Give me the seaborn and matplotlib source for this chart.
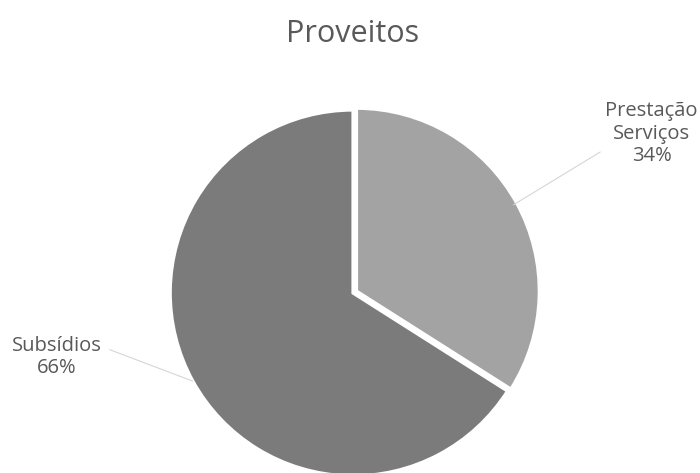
import numpy as np
import matplotlib
matplotlib.use("Agg")
from matplotlib import pyplot as plt
import seaborn as sns

categories = ["Prestação\nServiços", "Subsídios"]
shares = [34, 66]
slice_colors = ["#a3a3a3", "#7b7b7b"]

sns.set_theme(style="white")
plt.rcParams['font.family'] = ['Open Sans', 'DejaVu Sans']

fig = plt.figure(figsize=(7, 4.73), dpi=100)
fig.patch.set_facecolor("white")
fig.text(0.503, 0.928, "Proveitos", ha="center", va="center", fontsize=22, color="#595959")

ax = fig.add_axes([0.243, -0.0063, 0.523, 0.774])
wedges, _ = ax.pie(shares, colors=slice_colors, startangle=90, counterclock=False,
                   radius=1, explode=[0.02, 0],
                   wedgeprops=dict(edgecolor="white", linewidth=2.5))
ax.set_xlim(-1, 1)
ax.set_ylim(-1, 1)
ax.set_aspect("equal")
ax.axis("off")

label_pos = [(1.63, 0.87), (-1.62, -0.35)]
line_end = [(1.35, 0.77), (-1.33, -0.31)]
for w, name, val, (lx, ly), (ex, ey) in zip(wedges, categories, shares, label_pos, line_end):
    ang = np.deg2rad((w.theta1 + w.theta2) / 2)
    px, py = np.cos(ang), np.sin(ang)
    ax.plot([px, ex], [py, ey], color="#d6d6d6", lw=0.8, clip_on=False)
    ax.text(lx, ly, f"{name}\n{val}%", ha="center", va="center", fontsize=14.5,
            color="#595959", linespacing=1.15, clip_on=False)

fig.savefig("out.png", dpi=100, facecolor="white")
